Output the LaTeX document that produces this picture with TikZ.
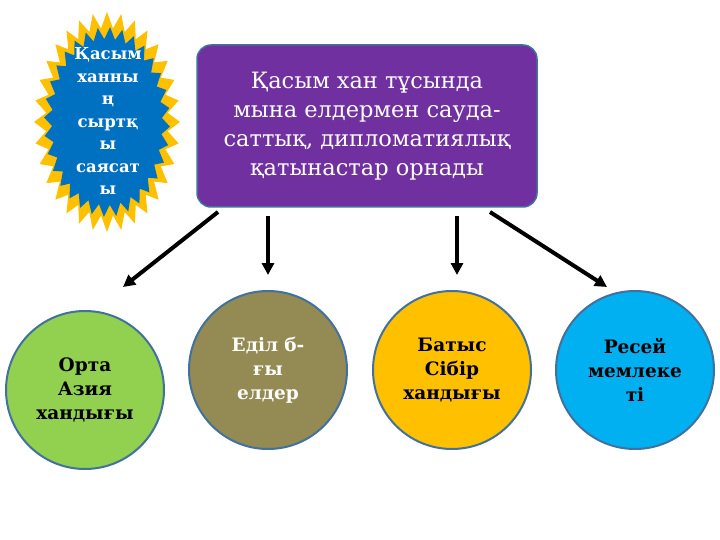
\documentclass[tikz,border=0pt]{standalone}
\usepackage{fontspec}
\setmainfont{DejaVu Serif}
\usetikzlibrary{arrows.meta,positioning}
\definecolor{boxpurple}{HTML}{7030A0}
\definecolor{rimblue}{HTML}{41719C}
\definecolor{cgreen}{HTML}{92D050}
\definecolor{colive}{HTML}{948A54}
\definecolor{corange}{HTML}{FFC000}
\definecolor{cblue}{HTML}{00B0F0}
\definecolor{starblue}{HTML}{0070C0}
\definecolor{staryellow}{HTML}{FFC000}
\begin{document}
\begin{tikzpicture}
  [
  x=1pt, y=-1pt, line width=4pt,
  topic/.style={rectangle, rounded corners=14pt, fill=boxpurple, draw=rimblue, line width=1.5pt,
    minimum width=340pt, minimum height=162pt, text=white, align=center, font=\fontsize{22.5}{29}\selectfont},
  region/.style={circle, draw=rimblue, line width=2pt, minimum size=158pt, align=center,
    font=\bfseries\fontsize{18.5}{24}\selectfont, text width=120pt},
  link/.style={-{Triangle[length=12pt,width=12pt]}, line width=4pt}
  ]
\useasboundingbox (0,0) rectangle (720,540);

% starburst
\draw[fill=staryellow, draw=none] plot[samples at={0,...,63}, variable=\k]
  ({107+(73-12*mod(\k,2))*sin(\k*5.625)}, {122-(110-16*mod(\k,2))*cos(\k*5.625)}) -- cycle;
\draw[fill=starblue, draw=none] plot[samples at={0,...,63}, variable=\k]
  ({107+(63-8*mod(\k,2))*sin(\k*5.625+2.8)}, {122-(95-12*mod(\k,2))*cos(\k*5.625+2.8)}) -- cycle;
\node[text=white, align=center, font=\bfseries\fontsize{16.5}{22.5}\selectfont] (star) at (108,121)
  {Қасым\\ханны\\ң\\сыртқ\\ы\\саясат\\ы};

\node[topic] (topic) at (367,126) {Қасым хан тұсында\\мына елдермен сауда-\\саттық, дипломатиялық\\қатынастар орнады};

\node[region, fill=cgreen] (asia) at (85,390) {Орта\\Азия\\хандығы};
\node[region, fill=colive, text=white] (edil) at (268,370) {Еділ б-\\ғы\\елдер};
\node[region, fill=corange] (sibir) at (452,370) {Батыс\\Сібір\\хандығы};
\node[region, fill=cblue] (resei) at (635,370) {Ресей\\мемлеке\\ті};

\coordinate (t1) at (218,212);
\coordinate (t2) at (268,216);
\coordinate (t3) at (457,216);
\coordinate (t4) at (490,212);
\coordinate (h1) at (123,287);
\coordinate (h2) at (268,275);
\coordinate (h3) at (457,275);
\coordinate (h4) at (607,287);
\draw[link] (t1) -- (h1);
\draw[link] (t2) -- (h2);
\draw[link] (t3) -- (h3);
\draw[link] (t4) -- (h4);
\end{tikzpicture}
\end{document}
